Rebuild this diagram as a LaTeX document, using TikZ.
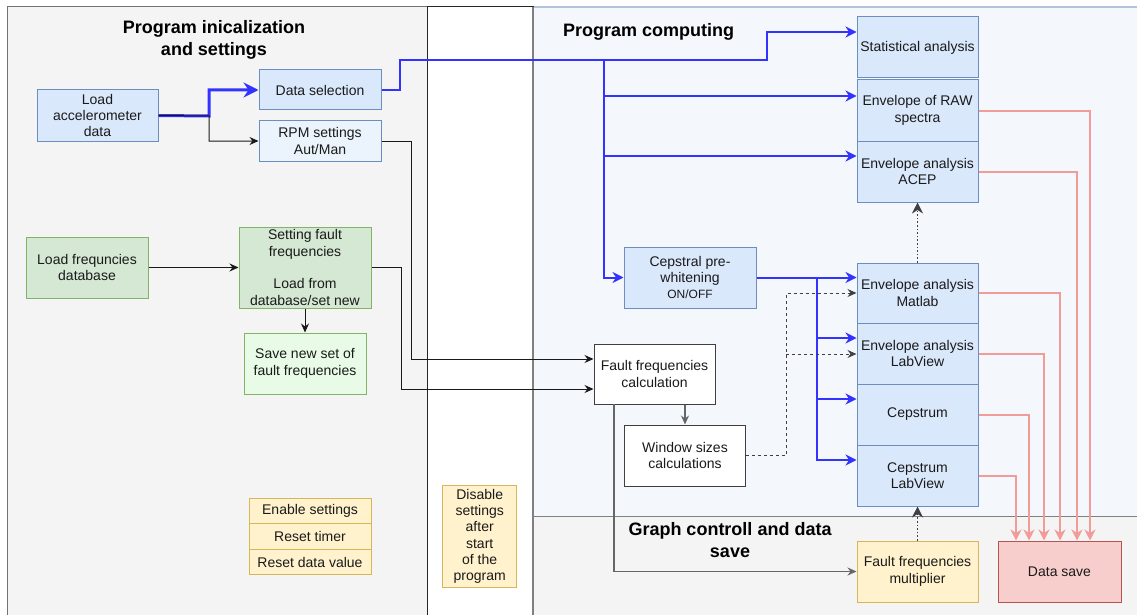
\documentclass[tikz,border=0pt]{standalone}
\usepackage{fontspec}
\setmainfont{Liberation Sans}
\usetikzlibrary{arrows.meta}

\definecolor{txt}{HTML}{1A1A1A}
\definecolor{bfill}{HTML}{DAE8FC}
\definecolor{bdraw}{HTML}{6C8EBF}
\definecolor{lbfill}{HTML}{EBF4FC}
\definecolor{gfill}{HTML}{D5E8D4}
\definecolor{gdraw}{HTML}{82B366}
\definecolor{lgfill}{HTML}{E8FBE6}
\definecolor{yfill}{HTML}{FFF2CC}
\definecolor{ydraw}{HTML}{D6B656}
\definecolor{rfill}{HTML}{F8CECC}
\definecolor{rdraw}{HTML}{B85450}
\definecolor{salmon}{HTML}{F19C99}
\definecolor{flow}{HTML}{3333FF}
\definecolor{panelgray}{HTML}{F4F4F4}
\definecolor{panelblue}{HTML}{F4F8FD}
\definecolor{panelblueline}{HTML}{B0C4DE}

\newcommand\nodefont{\fontsize{14}{16.3}\selectfont}
\newcommand\smallnodefont{\fontsize{12}{14}\selectfont}
\newcommand\titlefont{\fontsize{18}{21.5}\selectfont\bfseries}

\tikzset{
  box/.style={draw, line width=1pt, align=center, inner sep=0pt, text=txt,
    font=\nodefont, minimum width=121pt, minimum height=61pt},
  bluebox/.style={box, fill=bfill, draw=bdraw},
  lightbluebox/.style={box, fill=lbfill, draw=bdraw},
  greenbox/.style={box, fill=gfill, draw=gdraw},
  lightgreenbox/.style={box, fill=lgfill, draw=gdraw},
  yellowbox/.style={box, fill=yfill, draw=ydraw},
  redbox/.style={box, fill=rfill, draw=rdraw},
  whitebox/.style={box, fill=white, draw=black!75},
  paneltitle/.style={align=center, text=black, font=\titlefont, inner sep=0pt},
  tipsmall/.style={-{Stealth[length=9pt,width=8pt,inset=3pt]}},
  tipmid/.style={-{Stealth[length=11pt,width=11pt,inset=3.5pt]}},
  flowline/.style={draw=flow, line width=2pt, tipmid},
  flowthick/.style={draw=flow, line width=3pt, -{Stealth[length=15pt,width=15pt,inset=5pt]}},
  blackline/.style={draw=black!90, line width=1pt, tipsmall},
  grayline/.style={draw=black!60, line width=1.2pt, tipsmall},
  dashline/.style={draw=black!75, line width=1pt, dash pattern=on 3pt off 3pt, tipsmall},
  dotline/.style={draw=black!75, line width=1.6pt, dash pattern=on 1.6pt off 2pt, tipmid},
  saveline/.style={draw=salmon, line width=2pt, -{Stealth[length=11pt,width=11pt,inset=3.5pt]}}
}

\begin{document}
\begin{tikzpicture}[x=1pt, y=-1pt]
\useasboundingbox (0,0) rectangle (1137,615);
\fill[white] (0,0) rectangle (1137,615);

% ---- panels ----
\filldraw[fill=panelgray, draw=black!55, line width=1pt] (7,7) rectangle (427,630);
\fill[panelblue] (533,7) rectangle (1150,516);
\draw[panelblueline, line width=1.5pt] (533,7) -- (1150,7);
\filldraw[fill=panelgray, draw=black!50, line width=1pt] (533,516) rectangle (1150,630);
\filldraw[fill=white, draw=black!85, line width=1pt] (427,7) rectangle (533,630);
\draw[black!50, line width=1.2pt] (533,7) -- (533,630);

\node[paneltitle] (t1) at (214,40) {Program inicalization\\and settings};
\node[paneltitle] (t2) at (648.5,32) {Program computing};
\node[paneltitle] (t3) at (730,540) {Graph controll and data\\save};

% ---- initialization and settings ----
\node[bluebox, minimum height=51pt] (accel) at (97.5,115.5) {Load\\accelerometer\\data};
\node[bluebox, minimum width=122pt, minimum height=40pt] (datasel) at (320,90) {Data selection};
\node[lightbluebox, minimum width=122pt, minimum height=40pt] (rpm) at (320,141) {RPM settings\\Aut/Man};
\node[greenbox, minimum width=122pt] (loadfreq) at (87,267.5) {Load frequncies\\database};
\node[greenbox, minimum width=132pt, minimum height=81pt] (setfault) at (305,267.5)
  {Setting fault\\frequencies\\[16.3pt]Load from\\database/set new};
\node[lightgreenbox, minimum width=122pt] (savenew) at (305,363.5) {Save new set of\\fault frequencies};

\node[yellowbox, minimum width=122pt, minimum height=25.5pt] (enable) at (310,511) {Enable settings};
\node[yellowbox, minimum width=122pt, minimum height=25.5pt] (rtimer) at (310,536.5) {Reset timer};
\node[yellowbox, minimum width=122pt, minimum height=25.5pt] (rdata) at (310,562) {Reset data value};

\node[yellowbox, minimum width=74pt, minimum height=102pt] (disable) at (479.7,536.3)
  {Disable\\settings\\after\\start\\of the\\program};

% ---- computing ----
\node[bluebox] (stat) at (917.5,47.5) {Statistical analysis};
\node[bluebox] (raw) at (917.5,110.5) {Envelope of RAW\\spectra};
\node[bluebox] (acep) at (917.5,171.5) {Envelope analysis\\ACEP};
\node[bluebox, minimum width=132pt] (prewhite) at (690,277.5)
  {Cepstral pre-\\whitening\\{\smallnodefont ON/OFF}};
\node[bluebox, minimum height=60pt] (matlab) at (917.5,293) {Envelope analysis\\Matlab};
\node[bluebox] (labview) at (917.5,353.5) {Envelope analysis\\LabView};
\node[bluebox] (cep) at (917.5,414.5) {Cepstrum};
\node[bluebox] (ceplv) at (917.5,475.5) {Cepstrum\\LabView};
\node[whitebox, minimum height=60pt] (faultcalc) at (654.5,374) {Fault frequencies\\calculation};
\node[whitebox] (window) at (685,455.5) {Window sizes\\calculations};

% ---- graph control and save ----
\node[yellowbox] (mult) at (917.5,571.5) {Fault frequencies\\multiplier};
\node[redbox, minimum width=123pt] (datasave) at (1059.5,571.5) {Data save};

% ---- junctions and bends ----
\coordinate (jload) at (209,116);
\coordinate (jsel) at (400,60);
\coordinate (jtop) at (767,32);
\coordinate (jbus) at (604,60);
\coordinate (jcep) at (817,277.5);
\coordinate (jwin) at (786,293);
\coordinate (jwin2) at (786,354);
\coordinate (jrpm) at (411,359);
\coordinate (jset) at (401,389);
\coordinate (jmul) at (614,404);

% ---- blue data flow ----
\draw[flowthick] (accel.east) -- (jload) |- (datasel.west);
\draw[blackline] (accel.east) -- (jload) |- (rpm.west);
\draw[flowline] (datasel.east) -| (jsel) -| (jtop) -- (stat.west |- jtop);
\draw[flowline] (jbus) |- (raw.west |- 0,96);
\draw[flowline] (jbus) |- (acep.west |- 0,156);
\draw[flowline] (jbus) |- (prewhite.west);
\draw[flowline] (prewhite.east) -- (matlab.west |- prewhite.east);
\draw[flowline] (jcep) |- (labview.west |- 0,338);
\draw[flowline] (jcep) |- (cep.west |- 0,399);
\draw[flowline] (jcep) |- (ceplv.west |- 0,460);

% ---- settings to calculation ----
\draw[blackline] (loadfreq.east) -- (setfault.west);
\draw[blackline] (setfault.south) -- (savenew.north);
\draw[blackline] (rpm.east) -| (jrpm) -- (faultcalc.west |- jrpm);
\draw[blackline] (setfault.east) -| (jset) -- (faultcalc.west |- jset);
\draw[grayline] (window.north |- faultcalc.south) -- (window.north);
\draw[grayline] (jmul) |- (mult.west);

% ---- window sizes to envelope analyses ----
\draw[dashline] (window.east) -| (jwin) -- (matlab.west |- jwin);
\draw[dashline] (jwin2) -- (labview.west |- jwin2);

% ---- dotted control links ----
\draw[dotline] (matlab.north) -- (acep.south);
\draw[dotline] (mult.north) -- (ceplv.south);

% ---- results to data save ----
\draw[saveline] (raw.east |- 0,111) -| (datasave.north -| 1090,0);
\draw[saveline] (acep.east |- 0,172) -| (datasave.north -| 1077,0);
\draw[saveline] (matlab.east |- 0,293) -| (datasave.north -| 1060,0);
\draw[saveline] (labview.east |- 0,354) -| (datasave.north -| 1044,0);
\draw[saveline] (cep.east |- 0,415) -| (datasave.north -| 1029,0);
\draw[saveline] (ceplv.east |- 0,476) -| (datasave.north -| 1016,0);
\end{tikzpicture}
\end{document}
